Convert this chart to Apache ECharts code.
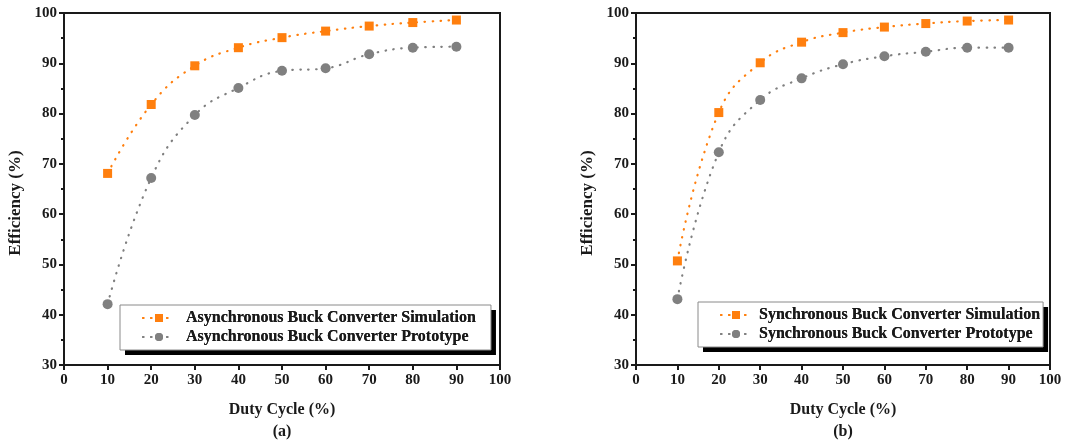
<!DOCTYPE html>
<html>
<head>
<meta charset="utf-8">
<script src="https://cdn.jsdelivr.net/npm/echarts@6/dist/echarts.min.js"></script>
<style>
  html, body { margin: 0; padding: 0; background: #fff; }
  #chart { width: 1089px; height: 441px; }
</style>
</head>
<body>
<div id="chart"></div>
<script>
// Duty cycle points (%)
const dutyCycle = [10, 20, 30, 40, 50, 60, 70, 80, 90];

// (a) Asynchronous buck converter efficiency (%)
const asyncSimulation = [68.1, 81.8, 89.5, 93.1, 95.1, 96.4, 97.4, 98.1, 98.6];
const asyncPrototype  = [42.1, 67.2, 79.7, 85.1, 88.5, 89.0, 91.8, 93.1, 93.3];

// (b) Synchronous buck converter efficiency (%)
const syncSimulation = [50.7, 80.2, 90.1, 94.2, 96.1, 97.2, 97.9, 98.4, 98.6];
const syncPrototype  = [43.1, 72.3, 82.7, 87.0, 89.8, 91.4, 92.3, 93.1, 93.1];

const panelLabels = ['(a)', '(b)'];
const seriesNames = [
  ['Asynchronous Buck Converter Simulation', 'Asynchronous Buck Converter Prototype'],
  ['Synchronous Buck Converter Simulation', 'Synchronous Buck Converter Prototype']
];

const ORANGE = '#ff7f0e';
const GREY = '#808080';
const INK = '#1a1a1a';
const FONT = '"Liberation Serif", "Times New Roman", serif';

const pair = (xs, ys) => xs.map((x, i) => [x, ys[i]]);

function xAxisFor(idx) {
  return {
    gridIndex: idx, type: 'value', min: 0, max: 100, interval: 10,
    name: 'Duty Cycle (%)\n' + panelLabels[idx],
    nameLocation: 'middle', nameGap: 34,
    nameTextStyle: { fontFamily: FONT, fontWeight: 'bold', fontSize: 16, color: INK, lineHeight: 22, verticalAlign: 'top' },
    axisLine: { show: true, onZero: false, lineStyle: { color: INK, width: 2 } },
    axisTick: { show: true, inside: false, length: 5, lineStyle: { color: INK, width: 2 } },
    minorTick: { show: false },
    splitLine: { show: false },
    axisLabel: { fontFamily: FONT, fontWeight: 'bold', fontSize: 15, color: INK, margin: 8 }
  };
}

function yAxisFor(idx) {
  return {
    gridIndex: idx, type: 'value', min: 30, max: 100, interval: 10,
    name: 'Efficiency (%)',
    nameLocation: 'middle', nameGap: 40, nameRotate: 90,
    nameTextStyle: { fontFamily: FONT, fontWeight: 'bold', fontSize: 17, color: INK, padding: [0, 28, 0, 0] },
    axisLine: { show: true, onZero: false, lineStyle: { color: INK, width: 2 } },
    axisTick: { show: true, inside: false, length: 5, lineStyle: { color: INK, width: 2 } },
    minorTick: { show: true, splitNumber: 2, length: 3, lineStyle: { color: INK, width: 2 } },
    splitLine: { show: false },
    axisLabel: { fontFamily: FONT, fontWeight: 'bold', fontSize: 15, color: INK, margin: 7 }
  };
}

function lineSeries(name, idx, ys, color, symbol, size) {
  return {
    name, type: 'line', xAxisIndex: idx, yAxisIndex: idx,
    data: pair(dutyCycle, ys),
    smooth: 0.45,
    symbol, symbolSize: size,
    itemStyle: { color },
    lineStyle: { color, width: 2.2, type: [0.5, 7.5], cap: 'round' },
    emphasis: { disabled: true },
    z: 3
  };
}

// Each legend is drawn twice: a back plate carrying the hard drop shadow,
// and a bordered front plate with the entries.
function legendPair(idx, box) {
  const base = {
    data: seriesNames[idx],
    orient: 'vertical',
    left: box.left, top: box.top,
    itemWidth: box.iconWidth, itemHeight: 10, itemGap: 3,
    padding: [5, box.padRight, 5, 22],
    textStyle: { fontFamily: FONT, fontWeight: 'bold', fontSize: 16, color: INK, padding: [0, 0, 0, box.textPad] },
    selectedMode: false
  };
  return [
    Object.assign({}, base, {
      z: 1,
      backgroundColor: '#fff', borderWidth: 0,
      shadowColor: '#000', shadowBlur: 0, shadowOffsetX: 5, shadowOffsetY: 5
    }),
    Object.assign({}, base, {
      z: 2,
      backgroundColor: 'transparent', borderColor: '#8a8a8a', borderWidth: 1
    })
  ];
}

const gridBase = {
  top: 13, height: 352, show: true, borderColor: INK, borderWidth: 2,
  backgroundColor: 'transparent', containLabel: false, outerBoundsMode: 'none'
};

const chart = echarts.init(document.getElementById('chart'), null, { renderer: 'canvas' });
chart.setOption({
  backgroundColor: '#fff',
  animation: false,
  grid: [
    Object.assign({ left: 64, width: 436 }, gridBase),
    Object.assign({ left: 636, width: 414 }, gridBase)
  ],
  xAxis: [xAxisFor(0), xAxisFor(1)],
  yAxis: [yAxisFor(0), yAxisFor(1)],
  legend: [
    ...legendPair(0, { left: 120, top: 305, iconWidth: 32, textPad: 6, padRight: 15 }),
    ...legendPair(1, { left: 698, top: 302, iconWidth: 30, textPad: 3, padRight: 3 })
  ],
  series: [
    lineSeries(seriesNames[0][0], 0, asyncSimulation, ORANGE, 'rect', 9),
    lineSeries(seriesNames[0][1], 0, asyncPrototype, GREY, 'circle', 10),
    lineSeries(seriesNames[1][0], 1, syncSimulation, ORANGE, 'rect', 9),
    lineSeries(seriesNames[1][1], 1, syncPrototype, GREY, 'circle', 10)
  ]
});
</script>
</body>
</html>
